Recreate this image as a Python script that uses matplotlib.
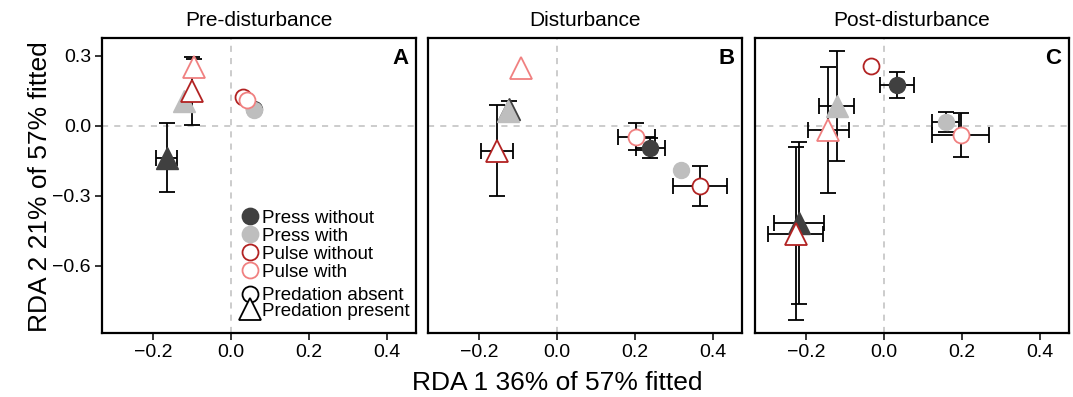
import matplotlib.pyplot as plt
import numpy as np
from matplotlib.lines import Line2D

plt.rcParams['font.family'] = ['Liberation Sans', 'DejaVu Sans']

panels = ["Pre-disturbance", "Disturbance", "Post-disturbance"]
letters = ["A", "B", "C"]
groups = ["Press without", "Press with", "Pulse without", "Pulse with"]
colors = ["#404040", "#BEBEBE", "#B22222", "#F08080"]
filled = [True, True, False, False]

# per panel, per group: predation absent (circles)
abs_x = [[0.058, 0.059, 0.030, 0.040],
         [0.239, 0.318, 0.367, 0.203],
         [0.033, 0.158, -0.034, 0.196]]
abs_y = [[0.072, 0.069, 0.126, 0.110],
         [-0.093, -0.190, -0.258, -0.047],
         [0.175, 0.017, 0.258, -0.039]]
abs_xerr = [[0, 0, 0, 0],
            [0.037, 0, 0.069, 0.047],
            [0.044, 0.034, 0, 0.074]]
abs_yerr = [[0, 0, 0, 0],
            [0.043, 0, 0.087, 0.058],
            [0.055, 0.043, 0, 0.096]]

# predation present (triangles)
pre_x = [[-0.165, -0.122, -0.099, -0.094],
         [-0.123, -0.127, -0.154, -0.092],
         [-0.218, -0.122, -0.227, -0.143]]
pre_y = [[-0.136, 0.107, 0.150, 0.253],
         [0.073, 0.064, -0.107, 0.248],
         [-0.415, 0.086, -0.462, -0.019]]
pre_xerr = [[0.027, 0, 0, 0],
            [0, 0, 0.041, 0],
            [0.065, 0.046, 0.070, 0.052]]
pre_yerr = [[0.148, 0, 0.147, 0.036],
            [0.033, 0, 0.195, 0],
            [0.347, 0.237, 0.370, 0.270]]

xticks = [-0.2, 0.0, 0.2, 0.4]
yticks = [0.3, 0.0, -0.3, -0.6]

fig = plt.figure(figsize=(10.73, 3.97), dpi=100)
lefts = [102, 428, 755]
W, H = 1073, 397
axes = []
for i in range(3):
    ax = fig.add_axes([lefts[i] / W, (H - 333) / H, 314 / W, 295 / H])
    axes.append(ax)
    ax.axhline(0, color="#BEBEBE", ls=(0, (4, 4)), lw=1.1, zorder=1)
    ax.axvline(0, color="#BEBEBE", ls=(0, (4, 4)), lw=1.1, zorder=1)

    for xs, ys, xe, ye in [
        (abs_x[i], abs_y[i], abs_xerr[i], abs_yerr[i]),
        (pre_x[i], pre_y[i], pre_xerr[i], pre_yerr[i]),
    ]:
        for g in range(4):
            if xe[g] > 0:
                ax.errorbar(xs[g], ys[g], xerr=xe[g], fmt="none", ecolor="black",
                            elinewidth=1.3, capsize=6, capthick=1.3, zorder=2)
            if ye[g] > 0:
                ax.errorbar(xs[g], ys[g], yerr=ye[g], fmt="none", ecolor="black",
                            elinewidth=1.3, capsize=6, capthick=1.3, zorder=2)
    for xs, ys, mk, ms in [(abs_x[i], abs_y[i], "o", 11.5), (pre_x[i], pre_y[i], "^", 16)]:
        for g in range(4):
            ax.plot(xs[g], ys[g], marker=mk, ms=ms, ls="none",
                    mfc=colors[g] if filled[g] else "white", mec=colors[g],
                    mew=1.0 if filled[g] else 1.3, zorder=3 + g * 0.1)

    ax.set_xlim(-0.331, 0.474)
    ax.set_ylim(-0.888, 0.377)
    ax.set_xticks(xticks)
    ax.set_xticklabels(["\u22120.2", "0.0", "0.2", "0.4"])
    if i == 0:
        ax.set_yticks(yticks)
        ax.set_yticklabels(["0.3", "0.0", "\u22120.3", "\u22120.6"])
    else:
        ax.set_yticks([])
    ax.tick_params(labelsize=14, length=5, width=1.1, pad=3)
    for s in ax.spines.values():
        s.set_linewidth(1.6)
    ax.set_title(panels[i], fontsize=15, pad=9)
    ax.text(0.975, 0.965, letters[i], transform=ax.transAxes, ha="right", va="top",
            fontsize=16, fontweight="bold")

ax = axes[0]
h1 = [Line2D([], [], marker="o", ls="none", ms=11.5,
             mfc=colors[g] if filled[g] else "white", mec=colors[g], mew=1.3)
      for g in range(4)]
leg1 = ax.legend(h1, groups, loc="upper left", bbox_to_anchor=(0.445, 0.418),
                 frameon=False, fontsize=13.5, handlelength=0.9, handletextpad=0.2,
                 labelspacing=0.05, borderpad=0, borderaxespad=0)
ax.add_artist(leg1)
h2 = [Line2D([], [], marker="o", ls="none", ms=11.5, mfc="white", mec="black", mew=1.3),
      Line2D([], [], marker="^", ls="none", ms=16, mfc="white", mec="black", mew=1.3)]
ax.legend(h2, ["Predation absent", "Predation present"], loc="upper left",
          bbox_to_anchor=(0.445, 0.155), frameon=False, fontsize=13.5, handlelength=0.9,
          handletextpad=0.2, labelspacing=-0.1, borderpad=0, borderaxespad=0)

fig.text(557 / W, 1 - 383 / H, "RDA 1 36% of 57% fitted", ha="center", va="center", fontsize=19)
fig.text(40 / W, 1 - 187 / H, "RDA 2 21% of 57% fitted", ha="center", va="center",
         rotation=90, fontsize=19)

fig.savefig("out.png", dpi=100)
